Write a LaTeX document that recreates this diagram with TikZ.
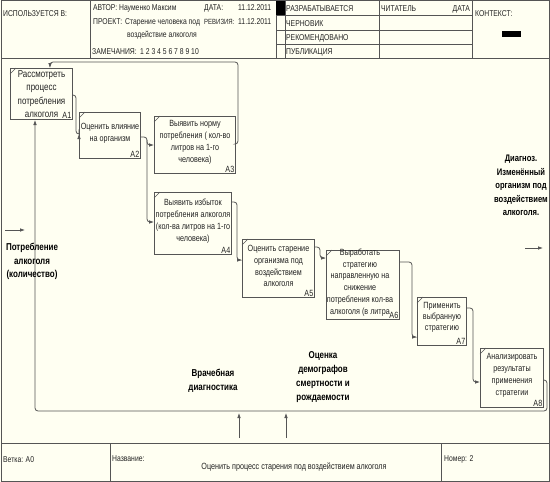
\documentclass[tikz,border=0pt]{standalone}
\usepackage{fontspec}
\setmainfont[FakeStretch=0.8]{Liberation Sans}
\usetikzlibrary{arrows.meta}
\definecolor{cream}{RGB}{255,255,242}
\definecolor{ink}{RGB}{35,35,35}
\definecolor{rulec}{RGB}{85,85,85}
\tikzset{
  frameline/.style={draw=rulec, line width=0.8pt},
  box/.style={draw=rulec, line width=1pt, fill=cream, anchor=north west, inner sep=0pt},
  boxtxt/.style={align=center, text=ink, inner sep=0pt, yshift=2.5pt, font=\fontsize{9}{11.8}\selectfont},
  idlbl/.style={anchor=south east, inner sep=1.5pt, text=ink, font=\fontsize{9}{9}\selectfont},
  conn/.style={draw=rulec, line width=0.8pt, rounded corners=3pt, -{Latex[length=5pt,width=3.6pt]}},
  lbl/.style={align=center, text=black, inner sep=0pt, font=\fontsize{10}{13.8}\selectfont\bfseries},
  hdr/.style={anchor=base west, inner sep=0pt, text=ink, font=\fontsize{8.5}{9}\selectfont},
}
\begin{document}
\begin{tikzpicture}[x=1pt,y=-1pt]
\useasboundingbox (0,0) rectangle (550,482);
\fill[cream] (0,0) rectangle (550,482);
% ---------- frame ----------
\draw[frameline] (1,0.5) rectangle (549,481.5);
\draw[frameline] (1,58) -- (549,58);
\draw[frameline] (1,443) -- (549,443);
\foreach \xx in {90,276,285,379,472} \draw[frameline] (\xx,0.5) -- (\xx,58);
\foreach \yy in {15,30,44} \draw[frameline] (276,\yy) -- (472,\yy);
\fill[black] (276,0.5) rectangle (285,15);
\fill[black] (502,31) rectangle (521,37);
\draw[frameline] (110,443) -- (110,481.5);
\draw[frameline] (441,443) -- (441,481.5);
% ---------- header texts ----------
\node[hdr] (hUsed) at (3,16) {ИСПОЛЬЗУЕТСЯ В:};
\node[hdr] (hAuth) at (93,10.5) {АВТОР: Науменко Максим};
\node[hdr] (hDate) at (204,10.5) {ДАТА:};
\node[hdr] (hDateV) at (238,10.5) {11.12.2011};
\node[hdr] (hProj) at (93,24.5) {ПРОЕКТ:};
\node[hdr] (hProjV) at (125,24.5) {Старение человека под};
\node[hdr, font=\fontsize{7.5}{9}\selectfont] (hRev) at (204,24.5) {РЕВИЗИЯ:};
\node[hdr] (hRevV) at (238,24.5) {11.12.2011};
\node[hdr] (hProj2) at (127,37) {воздействие алкоголя};
\node[hdr] (hNotes) at (92,54) {ЗАМЕЧАНИЯ:};
\node[hdr] (hNotesV) at (140,54) {1 2 3 4 5 6 7 8 9 10};
\node[hdr] (sWork) at (286,11) {РАЗРАБАТЫВАЕТСЯ};
\node[hdr] (sDraft) at (286,26) {ЧЕРНОВИК};
\node[hdr] (sRec) at (286,40) {РЕКОМЕНДОВАНО};
\node[hdr] (sPub) at (286,54) {ПУБЛИКАЦИЯ};
\node[hdr] (sRead) at (381,11) {ЧИТАТЕЛЬ};
\node[hdr, anchor=base east] (sDate) at (470,11) {ДАТА};
\node[hdr] (sCtx) at (475,16) {КОНТЕКСТ:};
% ---------- footer texts ----------
\node[hdr] (fNode) at (3,462) {Ветка: А0};
\node[hdr] (fName) at (112,461) {Название:};
\node[hdr, anchor=base, font=\fontsize{9}{9}\selectfont] (fTitle) at (294,469) {Оценить процесс старения под воздействием алкоголя};
\node[hdr] (fNum) at (444,461) {Номер: 2};
% ---------- activity boxes ----------
\node[box, minimum width=62pt, minimum height=51pt] (A1) at (10,68) {};
\node[box, minimum width=61pt, minimum height=46pt] (A2) at (79,112) {};
\node[box, minimum width=81pt, minimum height=57pt] (A3) at (154,116) {};
\node[box, minimum width=77pt, minimum height=62pt] (A4) at (154,192) {};
\node[box, minimum width=72pt, minimum height=58pt] (A5) at (242,239) {};
\node[box, minimum width=73pt, minimum height=69pt] (A6) at (326,250) {};
\node[box, minimum width=49pt, minimum height=48pt] (A7) at (417,297) {};
\node[box, minimum width=63pt, minimum height=59pt] (A8) at (480,348) {};
\foreach \b in {A1,A2,A3,A4,A5,A6,A7,A8}{
  \draw[rulec, line width=0.6pt] ([yshift=-6pt]\b.north west) -- ([xshift=6pt]\b.north west);
  \node[idlbl] (\b id) at (\b.south east) {\b};
}
\node[boxtxt, yshift=-2.5pt, font=\fontsize{10}{13.5}\selectfont] (A1t) at (A1.center) {Рассмотреть\\процесс\\потребления\\алкоголя};
\node[boxtxt] (A2t) at (A2.center) {Оценить влияние\\на организм};
\node[boxtxt] (A3t) at (A3.center) {Выявить норму\\потребления ( кол-во\\литров на 1-го\\человека)};
\node[boxtxt] (A4t) at (A4.center) {Выявить избыток\\потребления алкоголя\\(кол-ва литров на 1-го\\человека)};
\node[boxtxt] (A5t) at (A5.center) {Оценить старение\\организма под\\воздействием\\алкоголя};
\node[boxtxt, xshift=-3pt] (A6t) at (A6.center) {Выработать\\стратегию\\направленную на\\снижение\\потребления кол-ва\\алкоголя (в литра};
\node[boxtxt, yshift=1.5pt, font=\fontsize{9}{10.8}\selectfont] (A7t) at (A7.center) {Применить\\выбранную\\стратегию};
\node[boxtxt] (A8t) at (A8.center) {Анализировать\\результаты\\применения\\стратегии};
% ---------- connectors ----------
\draw[conn] (A1.east |- 0,95) -- (76,95) -- (76,134) -- (A2.west |- 0,134);
\draw[conn] (A2.east |- 0,137) -- (147,137) -- (147,145) -- (A3.west |- 0,145);
\draw[conn] (147,140) -- (147,222) -- (A4.west |- 0,222);
\draw[conn] (A3.east |- 0,144) -- (238,144) -- (238,62) -- (50,62) -- (A1.north -| 50,0);
\draw[conn] (A4.east |- 0,202) -- (237,202) -- (237,260) -- (A5.west |- 0,260);
\draw[conn] (A5.east |- 0,247) -- (320,247) -- (320,258) -- (A6.west |- 0,258);
\draw[conn] (A6.east |- 0,262) -- (412,262) -- (412,337) -- (A7.west |- 0,337);
\draw[conn] (A7.east |- 0,308) -- (473,308) -- (473,382) -- (A8.west |- 0,382);
\draw[conn] (A8.east |- 0,380) -- (547,380) -- (547,411) -- (35,411) -- (A1.south -| 35,0);
% ---------- boundary arrows ----------
\coordinate (inS) at (5,230);
\coordinate (inE) at (25,230);
\draw[conn] (inS) -- (inE);
\coordinate (outS) at (525,248);
\coordinate (outE) at (543,248);
\draw[conn] (outS) -- (outE);
\coordinate (m1S) at (239,438);
\coordinate (m1E) at (239,413);
\draw[conn] (m1S) -- (m1E);
\coordinate (m2S) at (286,438);
\coordinate (m2E) at (286,413);
\draw[conn] (m2S) -- (m2E);
% ---------- arrow labels ----------
\node[lbl] (Lin) at (32,261.5) {Потребление\\алкоголя\\(количество)};
\node[lbl, font=\fontsize{9.5}{13.6}\selectfont\bfseries] (Lout) at (521,185.5) {Диагноз.\\Изменённый\\организм под\\воздействием\\алкоголя.};
\node[lbl] (Lm1) at (213,381) {Врачебная\\диагностика};
\node[lbl] (Lm2) at (323,377) {Оценка\\демографов\\смертности и\\рождаемости};
\end{tikzpicture}
\end{document}
